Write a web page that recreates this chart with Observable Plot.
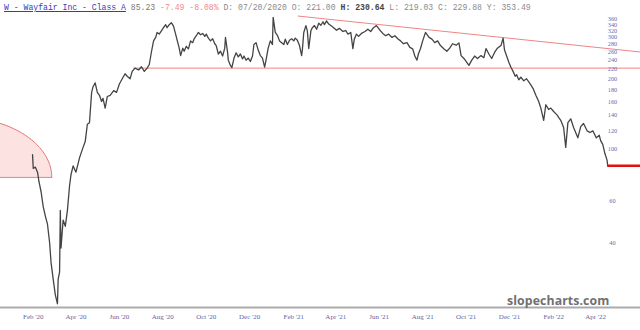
<!DOCTYPE html>
<html><head><meta charset="utf-8">
<script src="https://cdn.jsdelivr.net/npm/d3@7"></script>
<script src="https://cdn.jsdelivr.net/npm/@observablehq/plot@0.6"></script>
<style>
body{margin:0;background:#fff;}
#wrap{position:relative;width:640px;height:330px;overflow:hidden;background:#fff;}
#chart svg{display:block;}
#title{position:absolute;left:4px;top:2px;font:8.15px "Liberation Mono",monospace;color:#8c8c8c;white-space:pre;line-height:12px;}
#title .sym{color:#3a3ab8;text-decoration:underline;}
#title .last{color:#7a7a7a;}
#title .chg{color:#f08a8a;}
#title .b{color:#444;font-weight:bold;}
#wm{position:absolute;left:507px;top:292px;font:bold 12.3px "Open Sans",sans-serif;color:#707070;letter-spacing:0.1px;}
</style></head><body>
<div id="wrap"><div id="chart"></div>
<div id="title"><span class="sym">W - Wayfair Inc - Class A</span> <span class="last">85.23</span> <span class="chg">-7.49 -8.08%</span> D: 07/20/2020 O: 221.00 <span class="b">H: 230.64</span> L: 219.03 C: 229.88 Y: 353.49</div>
<div id="wm">slopecharts.com</div>
</div>
<script>
// ---- price series ----
const priceDates = [
"2020-01-31","2020-02-01","2020-02-04","2020-02-07","2020-02-09","2020-02-12","2020-02-15","2020-02-18","2020-02-21","2020-02-24","2020-02-26","2020-02-29",
"2020-03-03","2020-03-06","2020-03-07","2020-03-09","2020-03-10","2020-03-11","2020-03-14","2020-03-17","2020-03-20","2020-03-23","2020-03-25","2020-03-28",
"2020-04-01","2020-04-06","2020-04-10","2020-04-14","2020-04-17","2020-04-20","2020-04-23","2020-04-25","2020-04-28",
"2020-05-01","2020-05-04","2020-05-07","2020-05-09","2020-05-12","2020-05-15","2020-05-19","2020-05-24","2020-05-28",
"2020-06-01","2020-06-05","2020-06-09","2020-06-12","2020-06-16","2020-06-19","2020-06-23","2020-06-28",
"2020-07-02","2020-07-06","2020-07-10","2020-07-13","2020-07-16","2020-07-19","2020-07-22","2020-07-24","2020-07-27","2020-07-30",
"2020-08-02","2020-08-05","2020-08-07","2020-08-10","2020-08-13","2020-08-16","2020-08-19","2020-08-22","2020-08-24","2020-08-26","2020-08-29","2020-08-31",
"2020-09-03","2020-09-06","2020-09-09","2020-09-12","2020-09-14","2020-09-17","2020-09-20","2020-09-23","2020-09-26","2020-09-29",
"2020-10-01","2020-10-04","2020-10-07","2020-10-10","2020-10-13","2020-10-15","2020-10-18","2020-10-21","2020-10-24","2020-10-27","2020-10-28","2020-10-31",
"2020-11-01","2020-11-04","2020-11-06","2020-11-09","2020-11-12","2020-11-15","2020-11-18","2020-11-21","2020-11-23","2020-11-26","2020-11-29",
"2020-12-02","2020-12-05","2020-12-07","2020-12-10","2020-12-13","2020-12-16","2020-12-19","2020-12-22","2020-12-24","2020-12-27","2020-12-30",
"2021-01-02","2021-01-03","2021-01-06","2021-01-09","2021-01-12","2021-01-15","2021-01-18","2021-01-20","2021-01-23","2021-01-26","2021-01-29",
"2021-02-01","2021-02-03","2021-02-06","2021-02-09","2021-02-12","2021-02-13","2021-02-15","2021-02-18","2021-02-20","2021-02-22","2021-02-25","2021-02-27",
"2021-03-02","2021-03-05","2021-03-08","2021-03-11","2021-03-14","2021-03-16","2021-03-19","2021-03-22","2021-03-25","2021-03-29",
"2021-04-02","2021-04-06","2021-04-11","2021-04-15","2021-04-18","2021-04-22","2021-04-25","2021-04-27","2021-04-30",
"2021-05-03","2021-05-07","2021-05-12","2021-05-16","2021-05-20","2021-05-24","2021-05-28",
"2021-06-02","2021-06-06","2021-06-10","2021-06-14","2021-06-19","2021-06-23","2021-06-27",
"2021-07-01","2021-07-05","2021-07-10","2021-07-14","2021-07-18","2021-07-21","2021-07-24","2021-07-26","2021-07-29",
"2021-08-01","2021-08-05","2021-08-10","2021-08-14","2021-08-18","2021-08-22","2021-08-26","2021-08-31",
"2021-09-04","2021-09-08","2021-09-12","2021-09-17","2021-09-21","2021-09-24","2021-09-28",
"2021-10-02","2021-10-05","2021-10-09","2021-10-13","2021-10-17","2021-10-22","2021-10-26","2021-10-29",
"2021-11-02","2021-11-06","2021-11-10","2021-11-14","2021-11-19","2021-11-22","2021-11-24","2021-11-27","2021-11-30",
"2021-12-03","2021-12-06","2021-12-09","2021-12-11","2021-12-14","2021-12-17","2021-12-21","2021-12-25","2021-12-30",
"2022-01-03","2022-01-07","2022-01-11","2022-01-14","2022-01-18","2022-01-21","2022-01-25","2022-01-28",
"2022-02-01","2022-02-06","2022-02-08","2022-02-11","2022-02-15","2022-02-18","2022-02-21","2022-02-25",
"2022-03-01","2022-03-07","2022-03-11","2022-03-15","2022-03-20","2022-03-24","2022-03-28",
"2022-04-02","2022-04-06","2022-04-08","2022-04-11","2022-04-14","2022-04-17","2022-04-18"
];
const priceCloses = [
95,83,84,80,73,66,57,52,48,40,33,28,
24,22,28,30,55,38,50,47,55,70,78,85,
80,92,100,108,128,130,175,185,192,
175,170,160,165,150,168,170,178,175,
190,200,210,205,200,215,222,218,
225,215,222,230,260,290,300,315,310,320,
330,340,330,340,347,335,310,285,270,251,270,262,
275,268,290,285,296,305,315,308,312,303,
310,298,290,296,282,277,255,262,250,270,300,259,
240,228,223,245,258,248,255,243,250,240,245,
237,250,280,285,265,251,245,224,240,270,290,
280,365,315,306,290,285,280,295,280,292,296,
290,298,292,277,251,265,315,337,320,269,320,330,
337,325,345,338,350,340,353,342,337,330,
322,328,318,321,310,315,269,295,310,
303,312,318,325,318,330,337,
322,312,305,310,300,305,296,
290,282,285,272,268,250,240,255,269,
290,315,300,295,285,290,277,268,
262,270,282,278,284,251,244,
235,228,240,250,244,251,246,269,
255,244,259,270,277,298,265,250,235,
224,215,205,208,198,203,196,200,190,
182,170,160,150,133,155,148,150,
145,140,137,133,124,102,130,135,
124,112,125,129,120,118,120,
112,115,109,105,96,90,85
];

// ---- scales / ticks ----
const xDomain = ["2019-12-17", "2022-06-03"];
const yDomain = [21.2, 431];
const xTickDates = ["2020-02-01","2020-04-01","2020-06-01","2020-08-01","2020-10-01","2020-12-01",
  "2021-02-01","2021-04-01","2021-06-01","2021-08-01","2021-10-01","2021-12-01","2022-02-01","2022-04-01"];
const yTickValues = [40,60,80,100,120,140,160,180,200,220,240,260,280,300,320,340,360];

// ---- annotations (drawn by the chartist) ----
const supportPrice = 222;
const supportDates = ["2020-06-21", "2022-06-03"];
const trendDates = ["2021-02-07", "2022-06-03"];
const trendPrices = [370, 260];
const lastPrice = 85.23;
const lastLineDates = ["2022-04-18", "2022-06-03"];
const ellipseCenterDate = "2019-10-21";
const ellipseCenterPrice = 76;
const ellipseTopPrice = 137;
const ellipseRadiusDays = 129;

const parse = d3.utcParse("%Y-%m-%d");
const prices = priceDates.map((d, i) => ({date: parse(d), close: priceCloses[i]}));

// upper half of the ellipse in (time, log price) space
const ec = parse(ellipseCenterDate);
const ellipse = d3.range(0, 61).map(i => {
  const t = Math.PI - (i / 60) * Math.PI;
  const ms = ec.getTime() + Math.cos(t) * ellipseRadiusDays * 864e5;
  const lp = Math.log(ellipseCenterPrice) + Math.sin(t) * (Math.log(ellipseTopPrice) - Math.log(ellipseCenterPrice));
  return {date: new Date(ms), base: ellipseCenterPrice, top: Math.exp(lp)};
});
const ellipseBase = [ellipse[0], ellipse[ellipse.length - 1]];

const support = [{x1: parse(supportDates[0]), x2: parse(supportDates[1]), y: supportPrice}];
const trend = trendDates.map((d, i) => ({date: parse(d), price: trendPrices[i]}));
const lastLine = [{x1: parse(lastLineDates[0]), x2: parse(lastLineDates[1]), y: lastPrice}];

const chart = Plot.plot({
  width: 640, height: 330,
  marginLeft: 0, marginRight: 0, marginTop: 0, marginBottom: 23,
  style: {background: "transparent", overflow: "visible"},
  x: {type: "utc", domain: xDomain.map(parse)},
  y: {type: "log", domain: yDomain},
  marks: [
    Plot.areaY(ellipse, {x: "date", y1: "base", y2: "top", fill: "#fde2e2"}),
    Plot.line(ellipse, {x: "date", y: "top", stroke: "#e27a7a", strokeWidth: 1}),
    Plot.line(ellipseBase, {x: "date", y: "base", stroke: "#e27a7a", strokeWidth: 1}),
    Plot.ruleY(support, {x1: "x1", x2: "x2", y: "y", stroke: "#f08585", strokeWidth: 1}),
    Plot.line(trend, {x: "date", y: "price", stroke: "#f08585", strokeWidth: 1}),
    Plot.line(prices, {x: "date", y: "close", stroke: "#444", strokeWidth: 1.3}),
    Plot.ruleY(lastLine, {x1: "x1", x2: "x2", y: "y", stroke: "#e01010", strokeWidth: 2.5}),
    Plot.ruleY([yDomain[0]], {stroke: "#ababab", strokeWidth: 2}),
    Plot.axisX(xTickDates.map(parse), {
      tickSize: 0, tickPadding: 7, tickFormat: d3.utcFormat("%b '%y"),
      fontSize: 7, fontFamily: "Liberation Serif", fill: "#6464a4", label: null
    }),
    Plot.axisY(yTickValues, {
      anchor: "right", tickSize: 0, tickPadding: 0, dx: -28, textAnchor: "middle",
      tickFormat: d => String(d), fontSize: 6.3, fontFamily: "Liberation Serif", fill: "#6c6cb0", label: null
    })
  ]
});
document.getElementById("chart").appendChild(chart);
</script>
</body></html>
